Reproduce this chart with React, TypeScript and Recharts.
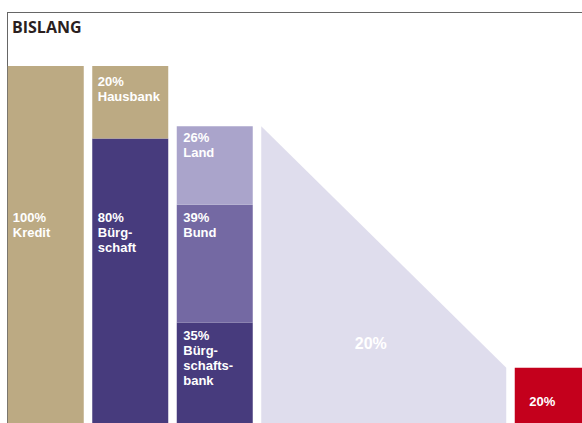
import React from 'react';
import { ComposedChart, Bar, XAxis, YAxis, LabelList } from 'recharts';

// ---- data ----
const categories = ['Kredit', 'Bürgschaft', 'Aufteilung', 'Übergang', 'Übergang 2', 'Übergang 3', 'Eigenrisiko'];
const kreditValues = [100, null, null, null, null, null, null];
const hausbankValues = [null, 20, null, null, null, null, null];
const buergschaftValues = [null, 80, null, null, null, null, null];
const landValues = [null, null, 26, null, null, null, null];
const bundValues = [null, null, 39, null, null, null, null];
const buergschaftsbankValues = [null, null, 35, null, null, null, null];
const uebergangStart = [null, null, null, 100, null, null, null];
const uebergangEnde = [null, null, null, 20, null, null, null];
const eigenrisikoValues = [null, null, null, null, null, null, 20];

const kreditLabel = ['Kredit'];
const hausbankLabel = ['Hausbank'];
const buergschaftLabel = ['Bürg-', 'schaft'];
const landLabel = ['Land'];
const bundLabel = ['Bund'];
const buergschaftsbankLabel = ['Bürg-', 'schafts-', 'bank'];

const data = categories.map((name, i) => ({
  name,
  kredit: kreditValues[i],
  hausbank: hausbankValues[i],
  buergschaft: buergschaftValues[i],
  land: landValues[i],
  bund: bundValues[i],
  buergschaftsbank: buergschaftsbankValues[i],
  uebergangStart: uebergangStart[i],
  uebergangEnde: uebergangEnde[i],
  eigenrisiko: eigenrisikoValues[i],
}));

// ---- style ----
const TAN = '#bcaa83';
const DARK = '#473b7d';
const LAND = '#aaa4cb';
const BUND = '#7469a3';
const TRI = '#dfdded';
const RED = '#c4001c';
const TITLE_FONT = "'Open Sans', 'Noto Sans', sans-serif";
const FONT = "'Liberation Sans', Arial, sans-serif";
const PITCH = 84.5;
const BAR = 76;

const makeLabel = (lines: string[], dy: number, dx: number, size = 13) => (props: any) => {
  const { x, y, value } = props;
  if (value == null || value === 0) return null;
  const all = [`${value}%`, ...lines];
  const tx = Number(x) + dx;
  return (
    <text x={tx} y={Number(y) + dy} fill="#fff" fontFamily={FONT} fontWeight={700} fontSize={size}>
      {all.map((l, i) => (
        <tspan key={i} x={tx} dy={i === 0 ? 0 : 15}>
          {l}
        </tspan>
      ))}
    </text>
  );
};

const triangleLabel = (props: any) => {
  const { x, y, height, value } = props;
  if (value == null) return null;
  return (
    <text x={Number(x) + 93.5} y={Number(y) + Number(height) - 79} fill="#fff" fontFamily={FONT} fontWeight={700} fontSize={16}>
      {`${value}%`}
    </text>
  );
};

const TriangleShape = (props: any) => {
  const { x, y, width, height, payload, fill } = props;
  if (!payload || payload.uebergangEnde == null || !height) return null;
  const bottom = y + height;
  const yEnd = bottom - height * (payload.uebergangEnde / payload.uebergangStart);
  const right = x + width + 2 * PITCH;
  return <path d={`M${x},${y} L${right},${yEnd} L${right},${bottom} L${x},${bottom} Z`} fill={fill} />;
};

export default function App() {
  return (
    <div style={{ position: 'fixed', left: 0, top: 0, width: 582, height: 423, overflow: 'hidden', background: '#fff' }}>
      <div style={{ position: 'absolute', left: 7, top: 12, width: 600, height: 440, borderTop: '1.5px solid #666', borderLeft: '1.5px solid #666' }} />
      <svg width={582} height={60} style={{ position: 'absolute', left: 0, top: 0 }}>
        <text x={12} y={33} fontFamily={TITLE_FONT} fontWeight={700} fontSize={16} fill="#2b1f1f">
          BISLANG
        </text>
      </svg>
      <div style={{ position: 'absolute', left: 0, top: 0 }}>
        <ComposedChart width={596} height={428} data={data} margin={{ top: 66, right: 0.75, bottom: 0, left: 3.75 }}>
          <XAxis xAxisId="a" dataKey="name" hide />
          <XAxis xAxisId="b" dataKey="name" hide />
          <YAxis yAxisId="A" domain={[0, 100]} hide />
          <YAxis yAxisId="B" domain={[0, 120]} hide />

          <Bar xAxisId="a" yAxisId="A" dataKey="kredit" stackId="s" fill={TAN} barSize={BAR} isAnimationActive={false}>
            <LabelList dataKey="kredit" content={makeLabel(kreditLabel, 156, 5)} />
          </Bar>
          <Bar xAxisId="a" yAxisId="A" dataKey="buergschaft" stackId="s" fill={DARK} barSize={BAR} isAnimationActive={false}>
            <LabelList dataKey="buergschaft" content={makeLabel(buergschaftLabel, 84, 5.5)} />
          </Bar>
          <Bar xAxisId="a" yAxisId="A" dataKey="hausbank" stackId="s" fill={TAN} barSize={BAR} isAnimationActive={false}>
            <LabelList dataKey="hausbank" content={makeLabel(hausbankLabel, 20, 5.5)} />
          </Bar>

          <Bar xAxisId="b" yAxisId="B" dataKey="buergschaftsbank" stackId="t" fill={DARK} barSize={BAR} isAnimationActive={false}>
            <LabelList dataKey="buergschaftsbank" content={makeLabel(buergschaftsbankLabel, 17.5, 6.5)} />
          </Bar>
          <Bar xAxisId="b" yAxisId="B" dataKey="bund" stackId="t" fill={BUND} barSize={BAR} isAnimationActive={false}>
            <LabelList dataKey="bund" content={makeLabel(bundLabel, 17, 6.5)} />
          </Bar>
          <Bar xAxisId="b" yAxisId="B" dataKey="land" stackId="t" fill={LAND} barSize={BAR} isAnimationActive={false}>
            <LabelList dataKey="land" content={makeLabel(landLabel, 16, 6.5)} />
          </Bar>
          <Bar xAxisId="b" yAxisId="B" dataKey="uebergangStart" stackId="t" fill={TRI} barSize={BAR} shape={TriangleShape} isAnimationActive={false}>
            <LabelList dataKey="uebergangEnde" content={triangleLabel} />
          </Bar>
          <Bar xAxisId="b" yAxisId="B" dataKey="eigenrisiko" stackId="t" fill={RED} barSize={BAR} isAnimationActive={false}>
            <LabelList dataKey="eigenrisiko" content={makeLabel([], 38, 14.5)} />
          </Bar>
        </ComposedChart>
      </div>
    </div>
  );
}
